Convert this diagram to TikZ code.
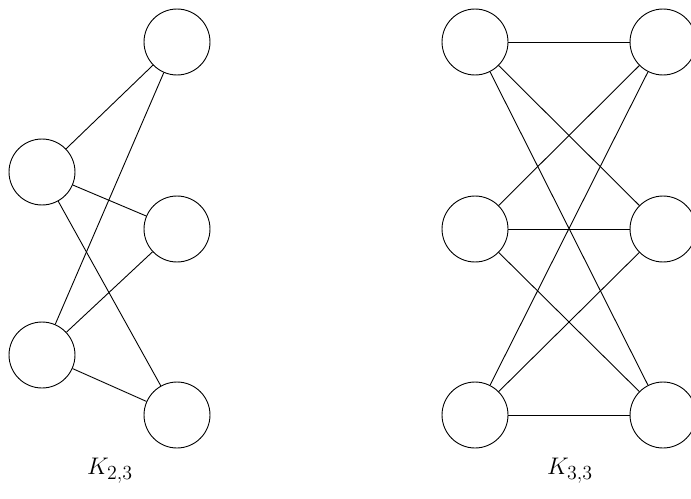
\documentclass[tikz,border=0pt]{standalone}
\begin{document}
\begin{tikzpicture}[x=0.72pt,y=-0.72pt,
  vert/.style={draw,circle,minimum size=47.5pt,inner sep=0pt,line width=0.65pt},
  edge/.style={line width=0.65pt},
  lab/.style={font=\fontsize{19}{23}\selectfont}]
\clip (0,0) rectangle (691,498);
\useasboundingbox (0,0) rectangle (691,498);
% K_{2,3}
\node[vert] (a1) at (42,172) {};
\node[vert] (a2) at (42,355) {};
\node[vert] (b1) at (177,42) {};
\node[vert] (b2) at (177,229) {};
\node[vert] (b3) at (177,415) {};
\foreach \u in {a1,a2}{\foreach \v in {b1,b2,b3}{\draw[edge] (\u) -- (\v);}}
\node[lab] (l1) at (110,471) {$K_{2,3}$};
% K_{3,3}
\node[vert] (c1) at (475,42) {};
\node[vert] (c2) at (475,229) {};
\node[vert] (c3) at (475,415) {};
\node[vert] (d1) at (663,42) {};
\node[vert] (d2) at (663,229) {};
\node[vert] (d3) at (663,415) {};
\foreach \u in {c1,c2,c3}{\foreach \v in {d1,d2,d3}{\draw[edge] (\u) -- (\v);}}
\node[lab] (l2) at (570,471) {$K_{3,3}$};
\end{tikzpicture}
\end{document}
